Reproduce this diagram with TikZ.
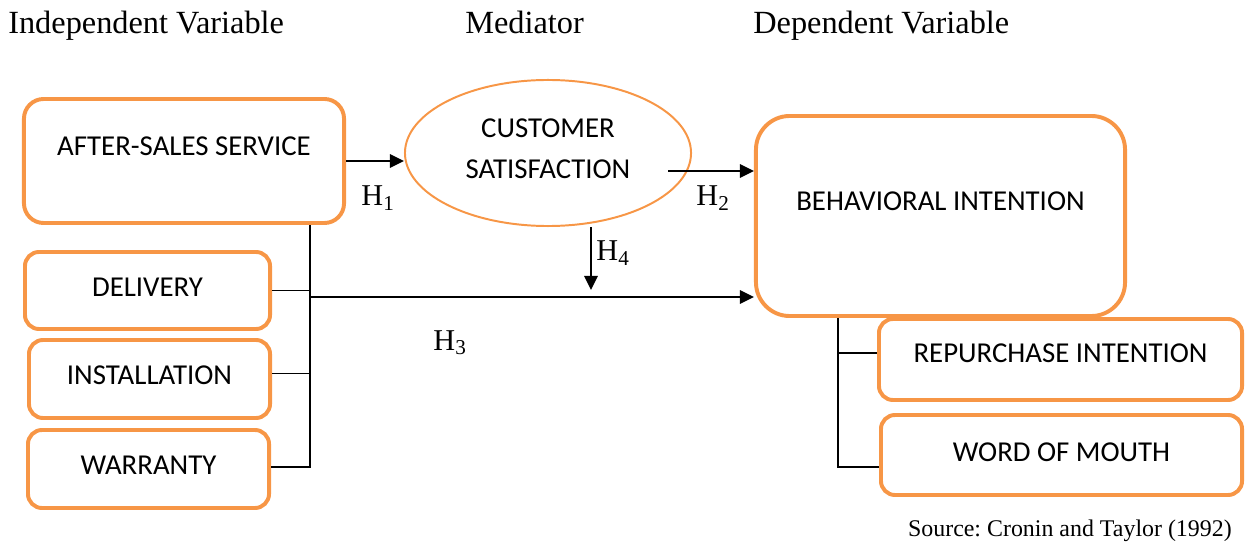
\documentclass[tikz,border=0pt]{standalone}
\usepackage{fontspec}
\setmainfont{Liberation Serif}
\newfontfamily\calibri{Carlito}
\usetikzlibrary{arrows.meta,shapes.geometric}
\usepackage{xcolor}
\definecolor{wordorange}{RGB}{247,150,70}
\frenchspacing

\tikzset{
	obox/.style={draw=wordorange,line width=2.8pt,rounded corners=10pt,inner sep=0pt,align=center,font=\calibri\fontsize{20.5}{29}\selectfont},
	head/.style={anchor=base west,inner sep=0pt,font=\fontsize{23}{28}\selectfont},
	hlab/.style={inner sep=0pt,font=\fontsize{21.5}{26}\selectfont},
	harrow/.style={-{Triangle[length=10pt,width=9.5pt]},line width=1.3pt},
	link/.style={line width=1pt}
}

\begin{document}
\begin{tikzpicture}[x=0.025cm,y=-0.025cm]
	\useasboundingbox (0,0) rectangle (1246,544);
	% headings
	\node(indep) at (8,34)[head]{Independent Variable};
	\node(medi) at (465,34)[head]{Mediator};
	\node(dep) at (753,34)[head]{Dependent Variable};

	% independent variable and its dimensions
	\node(ass) at (184,161)[obox,rounded corners=14pt,minimum width=8cm,minimum height=3.1cm]{AFTER-SALES SERVICE\\[-8pt]\mbox{}};
	\node(deliv) at (147.5,290.5)[obox,text depth=5pt,minimum width=6.125cm,minimum height=1.925cm]{DELIVERY};
	\node(instal) at (149.5,379)[obox,text depth=5.5pt,minimum width=6.025cm,minimum height=1.95cm]{INSTALLATION};
	\node(warr) at (148.5,469)[obox,text depth=5.5pt,minimum width=6.025cm,minimum height=1.95cm]{WARRANTY};

	% mediator
	\node(cs) at (548,153)[ellipse,draw=wordorange,line width=1.4pt,inner sep=0pt,text depth=6pt,minimum width=7.15cm,minimum height=3.65cm,align=center,font=\calibri\fontsize{20.5}{29}\selectfont]{CUSTOMER\\SATISFACTION};

	% dependent variable and its dimensions
	\node(bi) at (940.5,216)[obox,rounded corners=24pt,minimum width=9.225cm,minimum height=5cm]{BEHAVIORAL INTENTION\\[-8pt]\mbox{}};
	\node(rep) at (1060.5,359.5)[obox,text depth=9pt,minimum width=9.075cm,minimum height=2.025cm]{REPURCHASE INTENTION};
	\node(wom) at (1061.5,455)[obox,text depth=4pt,minimum width=9.025cm,minimum height=2cm]{WORD OF MOUTH};

	% trunks
	\coordinate(itrunk) at (310,467);
	\coordinate(h3start) at (310,297);
	\coordinate(dtrunk) at (838,467);
	\coordinate(h2start) at (668,171);
	\coordinate(h4end) at (591,290);

	\draw[link](ass.south -| itrunk) -- (itrunk) -- (itrunk -| warr.east);
	\draw[link](deliv.east) -- (deliv.east -| itrunk);
	\draw[link]([yshift=4pt]instal.east) -- ([yshift=4pt]instal.east -| itrunk);
	\draw[link](bi.south -| dtrunk) -- (dtrunk) -- (dtrunk -| wom.west);
	\draw[link]([yshift=4.5pt]rep.west -| dtrunk) -- ([yshift=4.5pt]rep.west);

	% hypotheses
	\draw[harrow](ass.east) -- (ass.east -| cs.west);
	\draw[harrow](h2start) -- (h2start -| bi.west);
	\draw[harrow](h3start) -- (h3start -| bi.west);
	\draw[harrow](cs.south -| h4end) -- (h4end);

	\node(h1) at (378,198)[hlab]{H\textsubscript{1}};
	\node(h2) at (713,198)[hlab]{H\textsubscript{2}};
	\node(h3) at (450,343)[hlab]{H\textsubscript{3}};
	\node(h4) at (613,253)[hlab]{H\textsubscript{4}};

	\node(src) at (1232,536)[anchor=base east,inner sep=0pt,font=\fontsize{17}{20}\selectfont]{Source: Cronin and Taylor (1992)};
\end{tikzpicture}
\end{document}
